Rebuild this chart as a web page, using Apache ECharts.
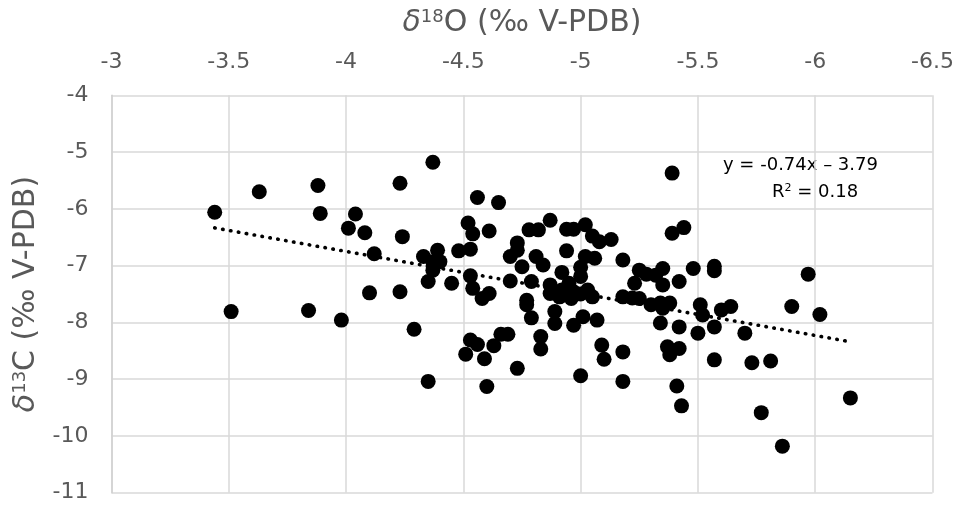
<!DOCTYPE html>
<html><head><meta charset="utf-8">
<script src="https://cdn.jsdelivr.net/npm/echarts@6/dist/echarts.min.js"></script>
<style>html,body{margin:0;padding:0;background:#fff}#c{width:962px;height:506px}</style>
</head><body><div id="c"></div>
<script>
// δ18O values (x)
var d18O = [
 -3.44,-3.63,-3.88,-3.89,-4.04,-4.01,-4.08,-4.12,-4.10,-3.51,-3.84,-3.98,
 -4.37,-4.23,-4.56,-4.65,-4.24,-4.52,-4.54,-4.61,-4.53,-4.48,-4.39,-4.33,-4.37,-4.40,-4.37,-4.35,-4.45,-4.53,-4.54,-4.61,-4.23,
 -4.29,-4.35,-4.53,-4.56,-4.51,-4.59,-4.63,-4.66,-4.69,-4.73,-4.60,-4.77,-4.79,-4.83,-4.83,-4.58,
 -4.78,-4.82,-4.87,-4.94,-4.97,-5.02,-5.05,-5.08,-4.73,-4.73,-4.70,-4.81,-4.84,-4.94,-4.75,-4.70,-4.79,-4.87,-4.92,-5.02,-5.06,-5.00,-5.00,-4.95,-4.92,-4.97,-5.03,-5.05,-4.77,
 -4.89,-4.89,-4.97,-5.01,-5.07,-5.09,-5.10,-5.18,-5.00,-5.18,-4.87,-4.91,-4.96,-5.00,
 -5.39,-5.44,-5.39,-5.13,-5.18,-5.25,-5.28,-5.32,-5.35,-5.23,-5.35,-5.42,-5.48,-5.57,-5.57,-5.97,-6.02,-5.90,-5.64,-5.60,-5.51,-5.52,
 -5.18,-5.22,-5.25,-5.30,-5.34,-5.38,-5.35,-5.34,-5.42,-5.50,-5.57,-5.70,-5.37,-5.42,-5.38,-5.57,-5.41,-5.43,-5.73,-5.81,-6.15,-5.77,-5.86
];
// δ13C values (y)
var d13C = [
 -6.06,-5.70,-5.59,-6.08,-6.09,-6.34,-6.42,-6.79,-7.48,-7.81,-7.79,-7.96,
 -5.18,-5.55,-5.80,-5.89,-6.49,-6.25,-6.44,-6.39,-6.71,-6.74,-6.73,-6.84,-6.93,-6.93,-7.08,-7.28,-7.31,-7.18,-7.40,-7.49,-7.46,
 -8.12,-9.04,-8.31,-8.39,-8.56,-8.64,-8.41,-8.21,-8.21,-8.81,-9.13,-7.69,-7.92,-8.25,-8.47,-7.58,
 -6.37,-6.37,-6.20,-6.36,-6.36,-6.28,-6.48,-6.58,-6.60,-6.73,-6.84,-6.84,-6.99,-6.74,-7.02,-7.27,-7.28,-7.34,-7.12,-6.84,-6.87,-7.03,-7.19,-7.31,-7.43,-7.46,-7.43,-7.55,-7.61,
 -7.81,-8.02,-8.05,-7.90,-7.96,-8.40,-8.65,-8.52,-8.94,-9.04,-7.49,-7.55,-7.58,-7.50,
 -5.37,-6.33,-6.43,-6.54,-6.90,-7.08,-7.15,-7.17,-7.05,-7.31,-7.34,-7.28,-7.05,-7.01,-7.09,-7.15,-7.86,-7.72,-7.72,-7.78,-7.69,-7.87,
 -7.55,-7.57,-7.58,-7.69,-7.66,-7.66,-7.75,-8.01,-8.08,-8.19,-8.08,-8.19,-8.43,-8.46,-8.57,-8.66,-9.12,-9.47,-8.71,-8.68,-9.33,-9.59,-10.18
];
var xTicks = ['-3','-3.5','-4','-4.5','-5','-5.5','-6','-6.5'];
var yTicks = ['-4','-5','-6','-7','-8','-9','-10','-11'];
// trend line as drawn (slope, intercept)
var trendSlope = 0.74, trendIntercept = -3.79;
var eqText = 'y = -0.74x \u2013 3.79';
var r2Text = '0.18';

var pts = d18O.map(function(x,i){return [x,d13C[i]];});
var xmin = Math.max.apply(null,d18O), xmax = Math.min.apply(null,d18O);
var trend = [[xmin, trendSlope*xmin+trendIntercept],[xmax, trendSlope*xmax+trendIntercept]];

var FONT = '"DejaVu Sans"';
var grey = '#595959';
var chart = echarts.init(document.getElementById('c'), null, {renderer:'canvas'});
var richName = {
  i:{fontFamily:FONT,fontSize:30,color:grey,fontStyle:'italic'},
  s:{fontFamily:FONT,fontSize:18,color:grey,verticalAlign:'top',padding:[0,0,12,0]},
  n:{fontFamily:FONT,fontSize:30,color:grey}
};
chart.setOption({
  animation:false,
  grid:{left:111.5, right:29.5, top:95.3, bottom:13.3},
  xAxis:{
    type:'value', position:'top', inverse:true, min:-6.5, max:-3, interval:0.5,
    axisLine:{show:false}, axisTick:{show:false},
    splitLine:{show:true, lineStyle:{color:'#d9d9d9', width:1.5}},
    axisLabel:{color:grey, fontFamily:FONT, fontSize:22, margin:22,
      formatter:function(v){return xTicks[Math.round((-3 - v)/0.5)];}},
    name:'{i|δ}{s|18}{n|O (‰ V-PDB)}', nameLocation:'middle', nameGap:57,
    nameTextStyle:{color:grey, fontFamily:FONT, fontSize:30, rich:richName}
  },
  yAxis:{
    type:'value', min:-11, max:-4, interval:1,
    axisLine:{show:true, lineStyle:{color:'#d0d0d0', width:1.5}}, axisTick:{show:false},
    splitLine:{show:true, lineStyle:{color:'#d9d9d9', width:1.5}},
    axisLabel:{color:grey, fontFamily:FONT, fontSize:22, margin:23,
      formatter:function(v){return yTicks[Math.round(-4 - v)];}},
    name:'{i|δ}{s|13}{n|C (‰ V-PDB)}', nameLocation:'middle', nameGap:64, nameRotate:90,
    nameTextStyle:{color:grey, fontFamily:FONT, fontSize:30, rich:richName}
  },
  series:[
    {type:'scatter', data:pts, symbol:'circle', symbolSize:15,
     itemStyle:{color:'#000', opacity:1}, z:2},
    {type:'line', data:trend, symbol:'none', silent:true, z:3,
     lineStyle:{color:'#000', width:3.6, type:[0.5,7.5], cap:'round'}}
  ],
  graphic:[
    {type:'text', left:723, top:156, style:{text:eqText, font:'18px "DejaVu Sans"', fill:'#000'}},
    {type:'text', left:772, top:183, style:{text:'{a|R}{s|2}{a| = '+r2Text+'}', font:'18px "DejaVu Sans"', fill:'#000',
      rich:{a:{fontFamily:FONT,fontSize:18,color:'#000'},s:{fontFamily:FONT,fontSize:11,color:'#000',verticalAlign:'top',padding:[0,0,6,0]}}}}
  ]
});
</script></body></html>
